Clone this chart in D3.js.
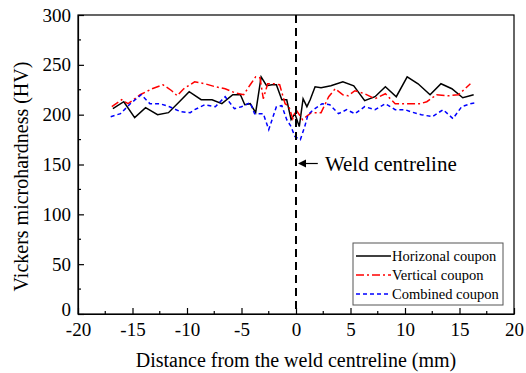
<!DOCTYPE html>
<html>
<head>
<meta charset="utf-8">
<script src="https://cdn.jsdelivr.net/npm/d3@7"></script>
<style>
  body { margin: 0; background: #fff; }
  text { font-family: "Liberation Serif", "Times New Roman", serif; fill: #000; }
</style>
</head>
<body>
<svg id="chart" width="526" height="373"></svg>
<script>
// Horizonal coupon (black solid)
let horiz_x = [-16.8, -15.8, -14.8, -13.8, -12.7, -11.7, -10.7, -9.8, -8.7, -7.7, -6.8, -5.8, -5.1, -4.7, -4.2, -3.7, -3.2, -2.7, -2.2, -1.8, -1.3, -0.85, -0.45, -0.1, 0.3, 0.65, 1.0, 1.3, 1.75, 2.3, 3.2, 4.3, 5.3, 6.3, 7.25, 8.2, 9.2, 10.2, 11.2, 12.3, 13.3, 14.3, 15.3, 16.3],
    horiz_y = [206, 213, 197, 207, 200, 202, 213, 223, 215, 215, 211, 220, 220, 210, 211, 202, 238, 229, 230, 230, 215, 215, 195, 201, 188, 216, 208, 215, 228, 227, 229, 233, 229, 214, 218, 228, 218, 238, 231, 220, 231, 226, 217, 220];

// Vertical coupon (red dash-dot)
let vert_x = [-16.9, -16.0, -15.4, -14.3, -13.2, -12.2, -11.4, -10.9, -10.3, -9.3, -8.35, -7.4, -6.5, -5.6, -4.8, -4.2, -3.7, -3.3, -3.0, -2.6, -2.0, -1.5, -1.0, -0.65, -0.3, 0.0, 0.6, 1.4, 2.3, 3.0, 3.6, 4.3, 4.8, 5.4, 6.3, 7.25, 8.2, 9.1, 10.0, 11.4, 12.0, 12.9, 14.0, 14.9, 16.0],
    vert_y = [208, 215, 211, 220, 226, 230, 224, 219, 226, 233, 231, 228, 226, 222, 220, 230, 238, 237, 216, 231, 231, 230, 211, 208, 196, 205, 195, 202, 202, 218, 226, 220, 219, 224, 221, 216, 221, 211, 211, 211, 213, 220, 219, 220, 231];

// Combined coupon (blue dashed)
let comb_x = [-17.0, -16.1, -15.2, -14.2, -13.4, -12.5, -11.6, -10.6, -9.7, -9.3, -8.35, -7.4, -6.5, -5.65, -5.0, -4.2, -3.8, -3.0, -2.5, -1.8, -1.3, -0.85, -0.45, -0.1, 0.4, 0.8, 1.1, 1.6, 2.4, 3.1, 3.9, 4.65, 5.4, 6.3, 7.25, 8.2, 9.1, 10.0, 10.5, 11.5, 12.5, 13.5, 14.4, 15.2, 16.0, 16.6],
    comb_y = [198, 201, 211, 220, 211, 211, 208, 203, 202, 205, 210, 208, 218, 206, 208, 212, 201, 201, 185, 208, 209, 195, 188, 178, 175, 188, 200, 205, 211, 210, 201, 205, 201, 208, 205, 211, 205, 205, 203, 200, 198, 205, 196, 208, 211, 212];

let series_names = ["Horizonal coupon", "Vertical coupon", "Combined coupon"],
    x_ticks = [-20, -15, -10, -5, 0, 5, 10, 15, 20],
    y_ticks = [0, 50, 100, 150, 200, 250, 300];

let margins = {top: 15, bottom: 59, left: 78, right: 12},
    width = 526, height = 373;

let scales = {
  x: d3.scaleLinear().domain([-20, 20]).range([margins.left, width - margins.right]),
  y: d3.scaleLinear().domain([0, 300]).range([height - margins.bottom, margins.top])
};

let styles = [
  {stroke: "#000", dash: null},
  {stroke: "#ff0000", dash: "8,3,2,3"},
  {stroke: "#0000ff", dash: "4,3"}
];

let svg = d3.select("#chart");

// lines
let series = [
  d3.zip(horiz_x, horiz_y),
  d3.zip(vert_x, vert_y),
  d3.zip(comb_x, comb_y)
];
let line = d3.line().x(d => scales.x(d[0])).y(d => scales.y(d[1]));

svg.append("g")
  .selectAll("path")
  .data(series).enter()
  .append("path")
  .attr("d", line)
  .attr("fill", "none")
  .attr("stroke", (d, i) => styles[i].stroke)
  .attr("stroke-dasharray", (d, i) => styles[i].dash)
  .attr("stroke-width", 1.5);

// centreline
svg.append("line")
  .attr("x1", scales.x(0)).attr("x2", scales.x(0))
  .attr("y1", scales.y(300)).attr("y2", scales.y(0))
  .attr("stroke", "#000")
  .attr("stroke-width", 2)
  .attr("stroke-dasharray", "8,5");

// arrow + annotation
let ay = scales.y(151);
svg.append("line")
  .attr("x1", scales.x(2)).attr("x2", scales.x(0) + 4)
  .attr("y1", ay).attr("y2", ay)
  .attr("stroke", "#000").attr("stroke-width", 1.2);
svg.append("path")
  .attr("d", `M${scales.x(0) + 2},${ay} l8,-4 l0,8 z`)
  .attr("fill", "#000");
svg.append("text")
  .attr("x", scales.x(2.65)).attr("y", ay + 7)
  .style("font-size", "21px")
  .text("Weld centreline");

// axes (ticks pointing inward), plain hyphen for negatives
let x_axis = d3.axisBottom(scales.x).tickValues(x_ticks).tickFormat(d => String(d))
      .tickSizeInner(-6).tickSizeOuter(0).tickPadding(10),
    y_axis = d3.axisLeft(scales.y).tickValues(y_ticks).tickFormat(d => String(d))
      .tickSizeInner(-6).tickSizeOuter(0).tickPadding(7);

let gx = svg.append("g")
  .attr("transform", `translate(0,${height - margins.bottom})`)
  .call(x_axis);
let gy = svg.append("g")
  .attr("transform", `translate(${margins.left},0)`)
  .call(y_axis);

// minor ticks
gx.selectAll(".minor")
  .data(d3.range(-17.5, 20, 5)).enter()
  .append("line")
  .attr("x1", d => scales.x(d)).attr("x2", d => scales.x(d))
  .attr("y1", 0).attr("y2", -3)
  .attr("stroke", "#000");
gy.selectAll(".minor")
  .data(d3.range(25, 300, 50)).enter()
  .append("line")
  .attr("y1", d => scales.y(d)).attr("y2", d => scales.y(d))
  .attr("x1", 0).attr("x2", 3)
  .attr("stroke", "#000");

[gx, gy].forEach(g => {
  g.selectAll("text")
    .style("font-family", "Liberation Serif")
    .style("font-size", "19px")
    .attr("fill", "#000");
  g.selectAll("line, path").attr("stroke-width", 1.2);
});
// the "0" label sits tight against "-20"; lift it a touch
gy.selectAll(".tick text").filter(d => d === 0).attr("dy", "0.1em");
gx.selectAll(".tick text").attr("dy", "0.62em");

// frame
svg.append("rect")
  .attr("x", margins.left).attr("y", margins.top)
  .attr("width", width - margins.left - margins.right)
  .attr("height", height - margins.top - margins.bottom)
  .attr("fill", "none")
  .attr("stroke", "#000")
  .attr("stroke-width", 1.2);

// axis titles
svg.append("text")
  .attr("x", (margins.left + width - margins.right) / 2)
  .attr("y", 367)
  .attr("text-anchor", "middle")
  .style("font-size", "20px")
  .text("Distance from the weld centreline (mm)");

svg.append("text")
  .attr("transform", `translate(28,${(margins.top + height - margins.bottom) / 2 + 12}) rotate(-90)`)
  .attr("text-anchor", "middle")
  .style("font-size", "20px")
  .text("Vickers microhardness (HV)");

// legend
let legend = svg.append("g").attr("transform", "translate(353,243)");
legend.append("rect")
  .attr("width", 150).attr("height", 62)
  .attr("fill", "#fff")
  .attr("stroke", "#555")
  .attr("stroke-width", 1);

let rows = legend.selectAll(".row")
  .data(series_names).enter()
  .append("g")
  .attr("transform", (d, i) => `translate(0,${13 + i * 19})`);
rows.append("line")
  .attr("x1", 3).attr("x2", 38)
  .attr("stroke", (d, i) => styles[i].stroke)
  .attr("stroke-dasharray", (d, i) => styles[i].dash)
  .attr("stroke-width", 1.5);
rows.append("text")
  .attr("x", 39).attr("y", 5)
  .style("font-size", "14.5px")
  .text(d => d);
</script>
</body>
</html>
